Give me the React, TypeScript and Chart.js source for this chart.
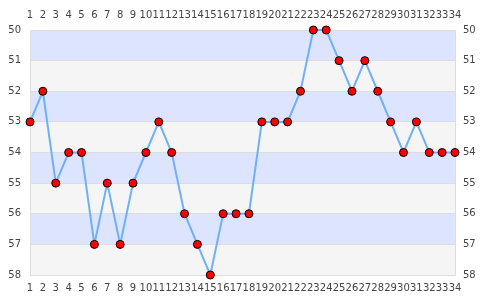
import React, { useEffect, useRef } from "react";
import { Chart, registerables } from "chart.js";

Chart.register(...registerables);

const categories = Array.from({ length: 34 }, (_, i) => String(i + 1));
const values = [53, 52, 55, 54, 54, 57, 55, 57, 55, 54, 53, 54, 56, 57, 58, 56, 56, 56, 53, 53, 53, 52, 50, 50, 51, 52, 51, 52, 53, 54, 53, 54, 54, 54];
const yMin = 50;
const yMax = 58;

const bandPlugin = {
  id: "bands",
  beforeDraw(chart: any) {
    const { ctx, chartArea, scales } = chart;
    const y = scales.y;
    ctx.save();
    for (let v = yMin; v < yMax; v++) {
      const p1 = y.getPixelForValue(v);
      const p2 = y.getPixelForValue(v + 1);
      ctx.fillStyle = (v - yMin) % 2 === 0 ? "#dde4ff" : "#f5f5f5";
      ctx.fillRect(chartArea.left, Math.min(p1, p2), chartArea.right - chartArea.left, Math.abs(p2 - p1));
    }
    ctx.restore();
  },
};

export default function App() {
  const ref = useRef<HTMLCanvasElement>(null);
  useEffect(() => {
    document.body.style.margin = "0";
    const font = { family: "DejaVu Sans", size: 10 };
    const color = "#444";
    const chart = new Chart(ref.current!, {
      type: "line",
      data: {
        labels: categories,
        datasets: [
          {
            data: values,
            borderColor: "#70b0f8",
            borderWidth: 2,
            pointBackgroundColor: "#ff0000",
            pointBorderColor: "#000",
            pointBorderWidth: 1,
            pointRadius: 4,
            tension: 0,
            clip: false as any,
            xAxisID: "x",
            yAxisID: "y",
          },
        ],
      },
      plugins: [bandPlugin],
      options: {
        responsive: false,
        animation: false,
        layout: { padding: 0 },
        plugins: { legend: { display: false }, tooltip: { enabled: false } },
        scales: {
          x: {
            type: "category",
            position: "bottom",
            offset: false,
            grid: { display: false, drawTicks: false },
            border: { display: true, color: "#ddd" },
            ticks: { autoSkip: false, maxRotation: 0, font, color, padding: 7 },
            afterFit: (s: any) => { s.height = 25; },
          },
          x2: {
            type: "category",
            labels: categories,
            position: "top",
            offset: false,
            grid: { display: false, drawTicks: false },
            border: { display: true, color: "#ddd" },
            ticks: { autoSkip: false, maxRotation: 0, font, color, padding: 9 },
            afterFit: (s: any) => { s.height = 30; },
          },
          y: {
            type: "linear",
            position: "left",
            reverse: true,
            min: yMin,
            max: yMax,
            ticks: { stepSize: 1, font, color, padding: 9 },
            grid: { color: "#ddd", drawTicks: false },
            border: { display: true, color: "#ddd" },
            afterFit: (s: any) => { s.width = 30; },
          },
          y2: {
            type: "linear",
            position: "right",
            reverse: true,
            min: yMin,
            max: yMax,
            ticks: { stepSize: 1, font, color, padding: 8 },
            grid: { display: false, drawTicks: false },
            border: { display: true, color: "#ddd" },
            afterFit: (s: any) => { s.width = 30; },
          },
        },
      } as any,
    });
    return () => chart.destroy();
  }, []);
  return <canvas ref={ref} width={485} height={300} style={{ display: "block" }} />;
}
